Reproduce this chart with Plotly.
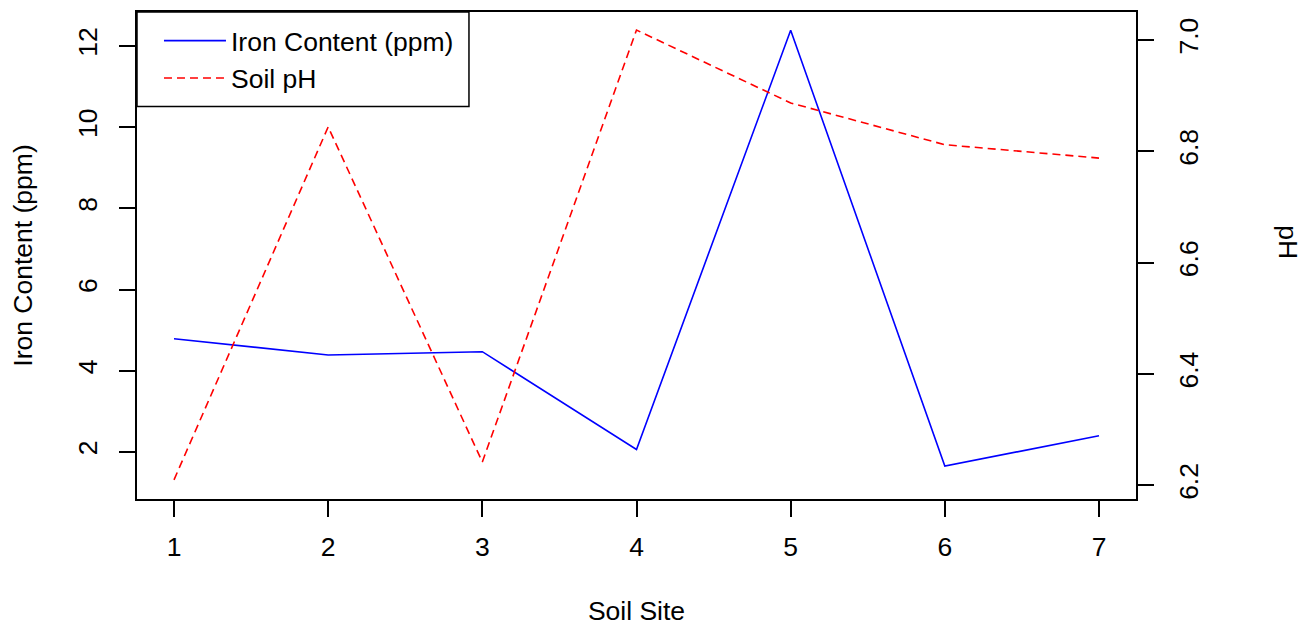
import plotly.graph_objects as go

sites = [1, 2, 3, 4, 5, 6, 7]
iron_ppm = [4.79, 4.39, 4.47, 2.06, 12.39, 1.65, 2.40]
soil_ph = [6.21, 6.844, 6.242, 7.018, 6.887, 6.812, 6.788]

x_ticks = [1, 2, 3, 4, 5, 6, 7]
iron_ticks = [2, 4, 6, 8, 10, 12]
ph_ticks = [6.2, 6.4, 6.6, 6.8, 7.0]

FONT = dict(family="Liberation Sans, Arial, sans-serif", size=26.5, color="black")

fig = go.Figure()
fig.add_trace(go.Scatter(
    x=sites, y=iron_ppm, mode="lines", name="Iron Content (ppm)",
    line=dict(color="#0000FF", width=1.6), yaxis="y"))
fig.add_trace(go.Scatter(
    x=sites, y=soil_ph, mode="lines", name="Soil pH",
    line=dict(color="#FF0000", width=1.6, dash="8px,5px"), yaxis="y2"))

axis_common = dict(
    showgrid=False, zeroline=False, showline=True, linecolor="black", linewidth=1.5,
    ticks="outside", ticklen=16, tickwidth=1.5, tickcolor="black",
    tickfont=FONT,
)

fig.update_layout(
    width=1302, height=618, autosize=False,
    margin=dict(l=129, r=174, t=2, b=127),
    paper_bgcolor="white", plot_bgcolor="white",
    font=FONT,
    showlegend=True,
    legend=dict(
        x=0.022, y=0.99, xanchor="left", yanchor="top",
        bgcolor="rgba(0,0,0,0)", borderwidth=0,
        font=FONT, itemwidth=62, tracegroupgap=0,
    ),
    xaxis=dict(
        **axis_common, range=[0.76, 7.24], tickvals=x_ticks, mirror=True,
        ticklabelstandoff=7,
        title=dict(text="Soil Site", font=FONT, standoff=44),
    ),
    yaxis=dict(
        **axis_common, range=[0.84, 12.84], tickvals=iron_ticks, mirror=True,
        tickangle=-90, ticklabelstandoff=12,
        title=dict(text="Iron Content (ppm)", font=FONT, standoff=32),
    ),
    yaxis2=dict(
        **axis_common, range=[6.1756, 7.0504], tickvals=ph_ticks, tickformat=".1f",
        overlaying="y", side="right", tickangle=-90, ticklabelstandoff=12,
    ),
    shapes=[dict(
        type="rect", xref="paper", yref="paper", x0=0, x1=0.3323, y0=0.8057, y1=1,
        line=dict(color="black", width=1.5), fillcolor="rgba(0,0,0,0)", layer="above",
    )],
    annotations=[dict(
        text="pH", xref="paper", yref="paper", x=1.152, y=0.5276,
        xanchor="center", yanchor="middle", textangle=90, showarrow=False, font=FONT,
    )],
)

fig.write_html("out.html")
